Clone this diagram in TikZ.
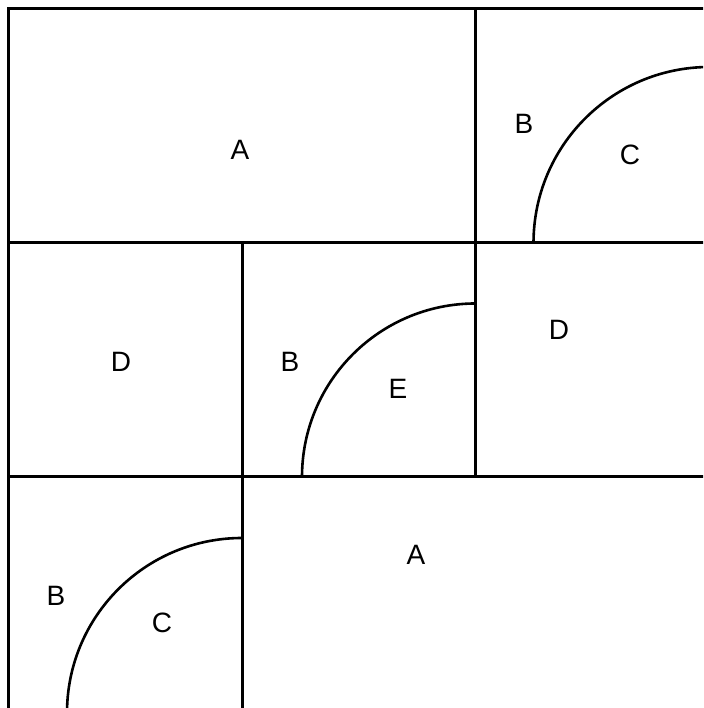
\documentclass[tikz,border=0pt]{standalone}
\usepackage{fontspec}
\setmainfont{Liberation Sans}
\begin{document}
\begin{tikzpicture}[x=1pt,y=1pt,
  wall/.style={line width=3pt,line cap=rect},
  curve/.style={line width=2.6pt},
  lab/.style={font=\fontsize{28}{28}\selectfont,inner sep=0pt,anchor=center}]
\useasboundingbox (0,0) rectangle (703,708);
\clip (0,0) rectangle (703,708);
\fill[white] (0,0) rectangle (703,708);
% grid
\draw[wall] (720,699.5) -- (8,699.5) -- (8,-10);
\draw[wall] (8,465) -- (720,465);
\draw[wall] (8,231) -- (720,231);
\draw[wall] (475.5,699.5) -- (475.5,231);
\draw[wall] (242,465) -- (242,-10);
% arcs
\draw[curve] (533.5,465) arc[start angle=180,end angle=90,radius=176];
\draw[curve] (302,231) arc[start angle=180,end angle=90,radius=173.5];
\draw[curve] (67,-5) arc[start angle=180,end angle=90,radius=175];
% labels
\node[lab] (a1) at (240,558) {A};
\node[lab] (b1) at (524,584) {B};
\node[lab] (c1) at (630,553) {C};
\node[lab] (d1) at (121,346) {D};
\node[lab] (b2) at (290,346) {B};
\node[lab] (e1) at (398,319) {E};
\node[lab] (d2) at (559,378) {D};
\node[lab] (a2) at (416,153) {A};
\node[lab] (b3) at (56,112) {B};
\node[lab] (c2) at (162,85) {C};
\end{tikzpicture}
\end{document}
